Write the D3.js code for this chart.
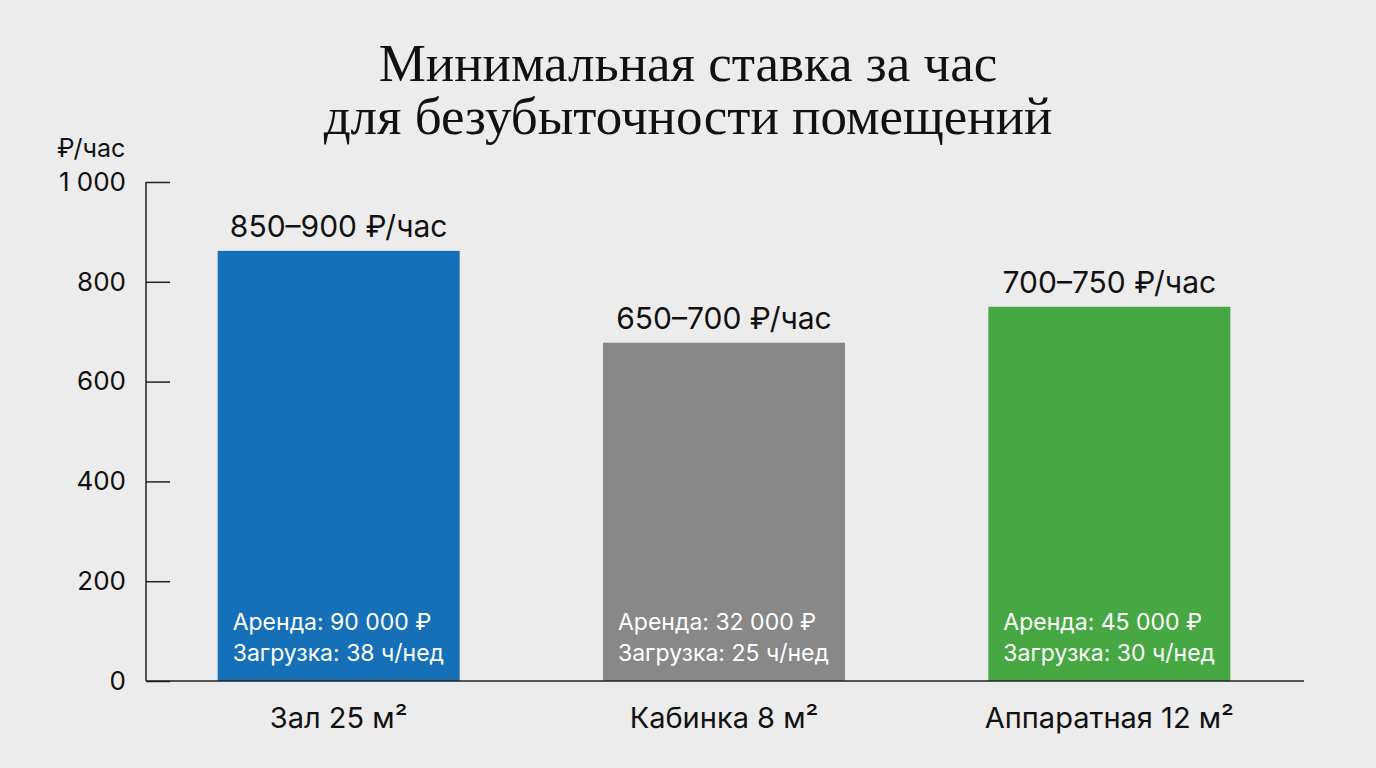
<!DOCTYPE html>
<html>
<head>
<meta charset="utf-8">
<script src="https://cdn.jsdelivr.net/npm/d3@7"></script>
<style>
  body { margin: 0; background: #ececec; }
  svg { display: block; }
</style>
</head>
<body>
<div id="chart"></div>
<script>
// data
const categories = ['Зал 25 м²', 'Кабинка 8 м²', 'Аппаратная 12 м²']
const values = [862, 678, 750]
const rangeLabels = ['850–900 ₽/час', '650–700 ₽/час', '700–750 ₽/час']
const rentLabels = ['Аренда: 90 000 ₽', 'Аренда: 32 000 ₽', 'Аренда: 45 000 ₽']
const loadLabels = ['Загрузка: 38 ч/нед', 'Загрузка: 25 ч/нед', 'Загрузка: 30 ч/нед']
const colors = ['#1570b8', '#888888', '#47a843']
const yTicks = [0, 200, 400, 600, 800, 1000]
const titleLines = ['Минимальная ставка за час', 'для безубыточности помещений']

const W = 1376, H = 768
const margin = {top: 182, right: 74, bottom: 87, left: 146},
    width = W - margin.left - margin.right,
    height = H - margin.top - margin.bottom

const sans = 'Inter, Roboto, "Noto Sans", sans-serif'

const svg = d3.select('#chart')
  .append('svg')
    .attr('width', W)
    .attr('height', H)

svg.append('rect').attr('width', W).attr('height', H).attr('fill', '#ececec')

// title
svg.selectAll('.title')
  .data(titleLines)
  .enter().append('text')
    .attr('class', 'title')
    .attr('x', 688)
    .attr('y', (d, i) => 81 + i * 53)
    .attr('text-anchor', 'middle')
    .style('font-family', '"Liberation Serif", "DejaVu Serif", serif')
    .style('font-size', '53px')
    .attr('fill', '#111')
    .text(d => d)

const g = svg.append('g')
    .attr('transform', 'translate(' + margin.left + ',' + margin.top + ')')

const x = d3.scaleBand()
    .domain(categories)
    .range([0, width])
    .paddingInner(0.372)
    .paddingOuter(0.186)

const y = d3.scaleLinear()
    .domain([0, 1000])
    .range([height, 0])

// y axis
const yAxis = g.append('g')
    .call(d3.axisRight(y)
      .tickValues(yTicks)
      .tickSize(24)
      .tickFormat(d => d3.format(',')(d).replace(',', ' ')))
yAxis.select('.domain').remove()
yAxis.selectAll('.tick line').attr('stroke', '#222').attr('stroke-width', 1.5)
yAxis.selectAll('.tick text')
    .attr('x', -20)
    .attr('text-anchor', 'end')
    .style('font-family', sans)
    .style('font-size', '26px')
    .style('white-space', 'pre')
    .attr('fill', '#111')

g.append('line')
    .attr('x1', 0).attr('x2', 0)
    .attr('y1', y(1000)).attr('y2', y(0))
    .attr('stroke', '#222').attr('stroke-width', 1.5)

svg.append('text')
    .attr('x', 57)
    .attr('y', 157)
    .style('font-family', sans)
    .style('font-size', '25px')
    .attr('fill', '#111')
    .text('₽/час')

// bars
const idx = d3.range(categories.length)

g.selectAll('.bar')
  .data(idx)
  .enter().append('rect')
    .attr('class', 'bar')
    .attr('x', i => x(categories[i]))
    .attr('y', i => y(values[i]))
    .attr('width', x.bandwidth())
    .attr('height', i => y(0) - y(values[i]))
    .attr('fill', i => colors[i])

// x baseline
g.append('line')
    .attr('x1', 0).attr('x2', width + 2)
    .attr('y1', y(0)).attr('y2', y(0))
    .attr('stroke', '#222').attr('stroke-width', 1.5)

// range labels above bars
g.selectAll('.range')
  .data(idx)
  .enter().append('text')
    .attr('class', 'range')
    .attr('x', i => x(categories[i]) + x.bandwidth() / 2)
    .attr('y', i => y(values[i]) - 14)
    .attr('text-anchor', 'middle')
    .style('font-family', sans)
    .style('font-size', '30px')
    .attr('fill', '#111')
    .text(i => rangeLabels[i])

// inner labels
g.selectAll('.rent')
  .data(idx)
  .enter().append('text')
    .attr('class', 'rent')
    .attr('x', i => x(categories[i]) + 15)
    .attr('y', y(0) - 51)
    .style('font-family', sans)
    .style('font-size', '23px')
    .attr('fill', '#fff')
    .text(i => rentLabels[i])

g.selectAll('.load')
  .data(idx)
  .enter().append('text')
    .attr('class', 'load')
    .attr('x', i => x(categories[i]) + 15)
    .attr('y', y(0) - 20)
    .style('font-family', sans)
    .style('font-size', '23px')
    .attr('fill', '#fff')
    .text(i => loadLabels[i])

// category labels
g.selectAll('.cat')
  .data(idx)
  .enter().append('text')
    .attr('class', 'cat')
    .attr('x', i => x(categories[i]) + x.bandwidth() / 2)
    .attr('y', y(0) + 47)
    .attr('text-anchor', 'middle')
    .style('font-family', sans)
    .style('font-size', '29px')
    .attr('fill', '#111')
    .text(i => categories[i])
</script>
</body>
</html>
